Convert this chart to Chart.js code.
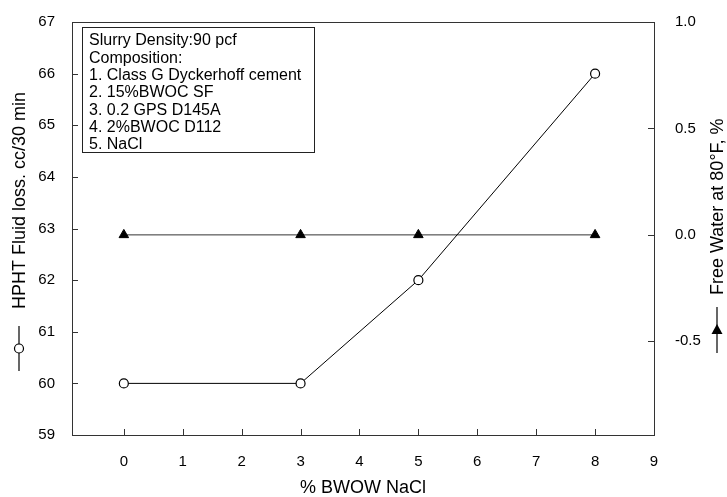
<!DOCTYPE html>
<html>
<head>
<meta charset="utf-8">
<script src="https://cdn.jsdelivr.net/npm/chart.js@4.4.1/dist/chart.umd.min.js"></script>
<style>
  html, body { margin: 0; padding: 0; background: #fff; }
  #wrap { width: 727px; height: 497px; }
</style>
</head>
<body>
<div id="wrap"><canvas id="c" width="727" height="497"></canvas></div>
<script>
const naclPct = [0, 3, 5, 8];
const fluidLoss = [60, 60, 62, 66];
const freeWater = [0, 0, 0, 0];
const xTicks = [0, 1, 2, 3, 4, 5, 6, 7, 8, 9];
const leftTicks = [59, 60, 61, 62, 63, 64, 65, 66, 67];
const rightTicks = [-0.5, 0.0, 0.5, 1.0];
const noteLines = [
  "Slurry Density:90 pcf",
  "Composition:",
  "1. Class G Dyckerhoff cement",
  "2. 15%BWOC SF",
  "3. 0.2 GPS D145A",
  "4. 2%BWOC D112",
  "5. NaCl"
];

const FONT = "Liberation Sans, Arial, sans-serif";
const AXIS = "#333";

const frame = {
  id: "frame",
  afterDraw(chart) {
    const { ctx, chartArea: a, scales } = chart;
    ctx.save();
    ctx.strokeStyle = AXIS;
    ctx.lineWidth = 1;
    ctx.strokeRect(a.left + 0.5, a.top + 0.5, a.right - a.left, a.bottom - a.top);

    // ticks point into the plot
    ctx.beginPath();
    scales.x.ticks.forEach(t => {
      const px = Math.round(scales.x.getPixelForValue(t.value)) + 0.5;
      ctx.moveTo(px, a.bottom); ctx.lineTo(px, a.bottom - 6);
    });
    scales.y.ticks.forEach(t => {
      const py = Math.round(scales.y.getPixelForValue(t.value)) + 0.5;
      ctx.moveTo(a.left, py); ctx.lineTo(a.left + 6, py);
    });
    scales.y2.ticks.forEach(t => {
      const py = Math.round(scales.y2.getPixelForValue(t.value)) + 0.5;
      ctx.moveTo(a.right, py); ctx.lineTo(a.right - 6, py);
    });
    ctx.stroke();

    // composition box
    ctx.strokeStyle = "#222";
    ctx.strokeRect(82.5, 27.5, 232, 125);
    ctx.fillStyle = "#000";
    ctx.font = "16px " + FONT;
    ctx.textBaseline = "middle";
    noteLines.forEach((s, i) => ctx.fillText(s, 89, 41 + i * 17.3));

    // x title
    ctx.font = "18px " + FONT;
    ctx.textAlign = "center";
    ctx.fillText("% BWOW NaCl", (a.left + a.right) / 2, 488);

    // rotated y titles, text ends just above the series symbol
    const drawTitle = (x, textEnd, symTop, symBot, text, marker) => {
      ctx.save();
      ctx.strokeStyle = "#000";
      ctx.lineWidth = 1.2;
      ctx.beginPath();
      ctx.moveTo(x, symTop); ctx.lineTo(x, symBot);
      ctx.stroke();
      const cy = (symTop + symBot) / 2;
      if (marker === "circle") {
        ctx.fillStyle = "#fff";
        ctx.beginPath(); ctx.arc(x, cy, 4.5, 0, Math.PI * 2); ctx.fill(); ctx.stroke();
      } else {
        ctx.fillStyle = "#000";
        ctx.beginPath();
        ctx.moveTo(x, cy - 6); ctx.lineTo(x - 5.5, cy + 4); ctx.lineTo(x + 5.5, cy + 4);
        ctx.closePath(); ctx.fill();
      }
      ctx.translate(x, textEnd);
      ctx.rotate(-Math.PI / 2);
      ctx.font = "18px " + FONT;
      ctx.textAlign = "left";
      ctx.fillStyle = "#000";
      ctx.fillText(text, 0, 1);
      ctx.restore();
    };
    drawTitle(19, 309, 326, 371, "HPHT Fluid loss. cc/30 min", "circle");
    drawTitle(717, 295, 307, 353, "Free Water at 80\u00b0F, %", "triangle");
    ctx.restore();
  }
};

new Chart(document.getElementById("c"), {
  type: "scatter",
  data: {
    datasets: [
      {
        label: "HPHT Fluid loss",
        data: naclPct.map((x, i) => ({ x, y: fluidLoss[i] })),
        yAxisID: "y",
        showLine: true,
        borderColor: "#000",
        borderWidth: 1,
        pointStyle: "circle",
        pointRadius: 4.5,
        pointBackgroundColor: "#fff",
        pointBorderColor: "#000",
        pointBorderWidth: 1.2
      },
      {
        label: "Free Water",
        data: naclPct.map((x, i) => ({ x, y: freeWater[i] })),
        yAxisID: "y2",
        showLine: true,
        borderColor: "#333",
        borderWidth: 1,
        pointStyle: "triangle",
        pointRadius: 5.5,
        pointBackgroundColor: "#000",
        pointBorderColor: "#000"
      }
    ]
  },
  options: {
    responsive: false,
    animation: false,
    layout: { padding: { top: 17, left: 0, right: 0, bottom: 0 } },
    plugins: { legend: { display: false }, tooltip: { enabled: false } },
    scales: {
      x: {
        type: "linear",
        min: -0.88,
        max: 9,
        afterBuildTicks: s => { s.ticks = xTicks.map(v => ({ value: v })); },
        afterFit: s => { s.height = 62; },
        grid: { display: false },
        border: { display: false },
        ticks: { color: "#000", font: { family: FONT, size: 15 }, padding: 10, maxRotation: 0 }
      },
      y: {
        position: "left",
        min: 59,
        max: 67,
        afterBuildTicks: s => { s.ticks = leftTicks.map(v => ({ value: v })); },
        afterFit: s => { s.width = 72; },
        grid: { display: false },
        border: { display: false },
        ticks: { color: "#000", font: { family: FONT, size: 15 }, padding: 9 }
      },
      y2: {
        position: "right",
        min: -0.94,
        max: 1.0,
        afterBuildTicks: s => { s.ticks = rightTicks.map(v => ({ value: v })); },
        afterFit: s => { s.width = 73; },
        grid: { display: false },
        border: { display: false },
        ticks: { color: "#000", font: { family: FONT, size: 15 }, padding: 13, callback: v => v.toFixed(1) }
      }
    }
  },
  plugins: [frame]
});
</script>
</body>
</html>
